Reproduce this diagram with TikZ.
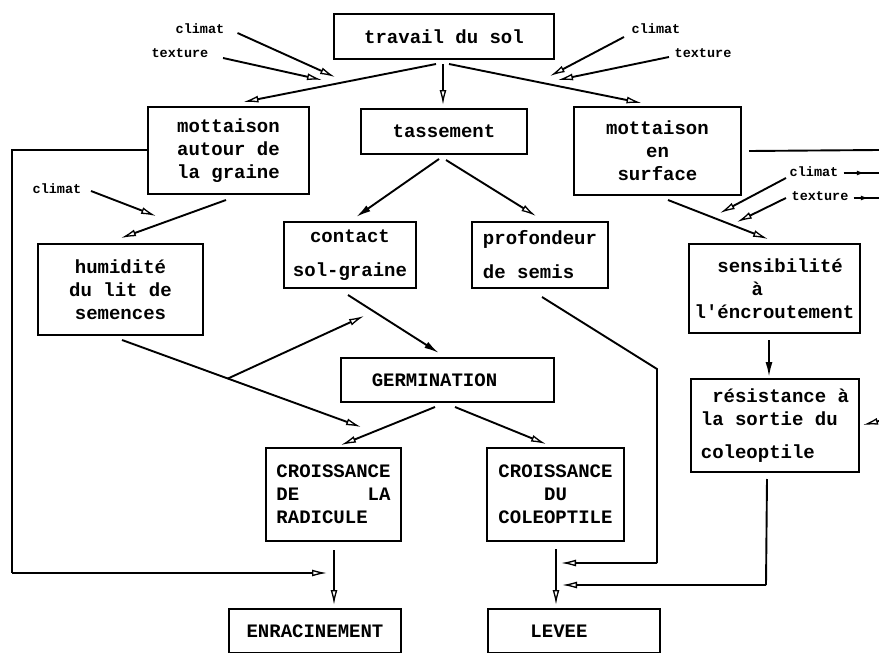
\documentclass[tikz,border=0pt]{standalone}
\usepackage{fontspec}
\newfontfamily\tw{Liberation Mono}
\usetikzlibrary{arrows.meta,calc,decorations.markings}
\begin{document}
\begin{tikzpicture}[x=1pt,y=-1pt,
 box/.style={draw,line width=2pt,inner sep=0pt,anchor=north west,font=\tw\bfseries\fontsize{19}{23}\selectfont,align=center},
 lbl/.style={font=\tw\bfseries\fontsize{13.5}{15}\selectfont,inner sep=0pt},
 ln/.style={line width=1.9pt},
 arr/.style={ln,-{Latex[open,length=15pt,width=7pt,line width=1.3pt]}},
 arrf/.style={ln,-{Latex[length=15pt,width=7pt]}},
 mid/.style={ln,postaction={decorate},decoration={markings,mark=at position 0.6 with {\arrow{Latex[length=8pt,width=5pt]}}}}]
\useasboundingbox[fill=white] (0,0) rectangle (879,653);
% boxes
\node[box,minimum width=220pt,minimum height=45pt] (trav) at (333,13) {travail du sol};
\node[box,minimum width=161pt,minimum height=87pt] (mottA) at (147,106) {mottaison\\autour de\\la graine};
\node[box,minimum width=166pt,minimum height=45pt] (tass) at (360,108) {tassement};
\node[box,minimum width=167pt,minimum height=88pt] (mottS) at (573,106) {mottaison\\en\\surface};
\node[box,minimum width=165pt,minimum height=91pt] (hum) at (37,243) {humidité\\du lit de\\semences};
\node[box,minimum width=132pt,minimum height=66pt] (cont) at (283,221) {contact\\[11pt]sol-graine};
\node[box,minimum width=136pt,minimum height=66pt,align=left] (prof) at (471,221) {profondeur\\[11pt]de semis};
\node[box,minimum width=171pt,minimum height=89pt,align=left] (sens) at (688,243) {\phantom{xx}sensibilité\\\phantom{xxxxx}à\\l'éncroutement};
\node[box,minimum width=213pt,minimum height=44pt] (germ) at (340,357) {GERMINATION\hspace*{26pt}};
\node[box,minimum width=168pt,minimum height=93pt,align=left] (res) at (690,378) {\phantom{x}résistance à\\la sortie du\\[10pt]coleoptile};
\node[box,minimum width=135pt,minimum height=93pt,align=left] (cr) at (265,447) {CROISSANCE\\DE\phantom{xxxxxx}LA\\RADICULE};
\node[box,minimum width=137pt,minimum height=93pt] (cc) at (486,447) {CROISSANCE\\DU\\COLEOPTILE};
\node[box,minimum width=172pt,minimum height=44pt] (enr) at (228,608) {ENRACINEMENT};
\node[box,minimum width=172pt,minimum height=44pt] (lev) at (487,608) {LEVEE\hspace*{30pt}};
% labels
\node[lbl] (cl1) at (200,29) {climat};
\node[lbl] (tx1) at (180,53) {texture};
\node[lbl] (cl4) at (656,29) {climat};
\node[lbl] (tx4) at (703,53) {texture};
\node[lbl] (cl2) at (57,189) {climat};
\node[lbl] (cl3) at (814,172) {climat};
\node[lbl] (tx3) at (820,196) {texture};
% free ends
\coordinate (e1) at (335,77);
\coordinate (e2) at (322,80);
\coordinate (e3) at (550,76);
\coordinate (e4) at (558,80);
\coordinate (e5) at (156,216);
\coordinate (e6) at (720,213);
\coordinate (e7) at (737,222);
\coordinate (fl) at (12,150);
\coordinate (fb) at (12,573);
\coordinate (fe) at (327,573);
\coordinate (p1) at (657,369);
\coordinate (p2) at (657,563);
\coordinate (p3) at (561,563);
\coordinate (r1) at (766,585);
\coordinate (r2) at (562,585);
\coordinate (rr) at (879,150);
\coordinate (rin) at (879,421);
\coordinate (c3e) at (879,173);
\coordinate (t3e) at (879,198);
% travail du sol
\draw[arr] ($(trav.south)+(-8,4)$) -- ($(mottA.north)+(15,-4)$);
\draw[arr] ($(trav.south)+(-1,4)$) -- ($(tass.north)+(-1,-3)$);
\draw[arr] ($(trav.south)+(5,4)$) -- ($(mottS.north)+(-16,-3)$);
% climat / texture top
\draw[arr] ($(cl1.east)+(13,4)$) -- (e1);
\draw[arr] ($(tx1.east)+(14.5,5)$) -- (e2);
\draw[arr] ($(cl4.west)+(-7.5,8)$) -- (e3);
\draw[arr] ($(tx4.west)+(-5.5,4)$) -- (e4);
% second level
\draw[arr] ($(cl2.east)+(9.5,2)$) -- (e5);
\draw[arr] ($(mottA.south)+(-2.5,5)$) -- ($(hum.north)+(0.5,-5)$);
\draw[arrf] ($(tass.south)+(-5,4)$) -- ($(cont.north)+(6,-4)$);
\draw[arr] ($(tass.south)+(2,5)$) -- ($(prof.north)+(-4,-5)$);
\draw[arr] ($(mottS.south)+(10.5,4)$) -- ($(sens.north)+(-6.5,-4)$);
\draw[arr] ($(cl3.west)+(-3.5,6)$) -- (e6);
\draw[arr] ($(tx3.west)+(-5.5,2)$) -- (e7);
\draw[mid] ($(cl3.east)+(5,1)$) -- (c3e);
\draw[mid] ($(tx3.east)+(5,2)$) -- (t3e);
% feedback lines
\draw[ln] (mottA.west |- fl) -- (fl) -- (fb);
\draw[arr] (fb) -- (fe);
\draw[ln] ($(mottS.east)+(7,0)$) -- (rr);
\draw[arr] (rin) -- ($(res.east)+(3,-0.5)$);
% germination
\draw[arrf] ($(cont.south)+(-2,6)$) -- ($(germ.north)+(-8.5,-4)$);
\coordinate (hs) at ($(hum.south)+(1.5,4)$);
\coordinate (he) at ($(cr.north)+(27.5,-20)$);
\draw[arr] (hs) -- (he);
\draw[arr] ($(hs)!0.443!(he)$) -- ($(cont.south)+(14,27)$);
\draw[arr] ($(germ.south)+(-12.5,4)$) -- ($(cr.north)+(7.5,-2)$);
\draw[arr] ($(germ.south)+(7.5,4)$) -- ($(cc.north)+(-9.5,-3)$);
% bottom
\draw[arr] ($(cr.south)+(0.5,8)$) -- ($(enr.north)+(19,-3)$);
\draw[arr] ($(cc.south)+(0.5,7)$) -- ($(lev.north)+(-18,-3)$);
\draw[ln] ($(prof.south)+(2,8)$) -- (p1) -- (p2);
\draw[arr] (p2) -- (p3);
\draw[arrf] ($(sens.south)+(-5.5,6)$) -- ($(res.north)+(-6,-1)$);
\draw[ln] ($(res.south)+(-8,6)$) -- (r1);
\draw[arr] (r1) -- (r2);
\end{tikzpicture}
\end{document}
